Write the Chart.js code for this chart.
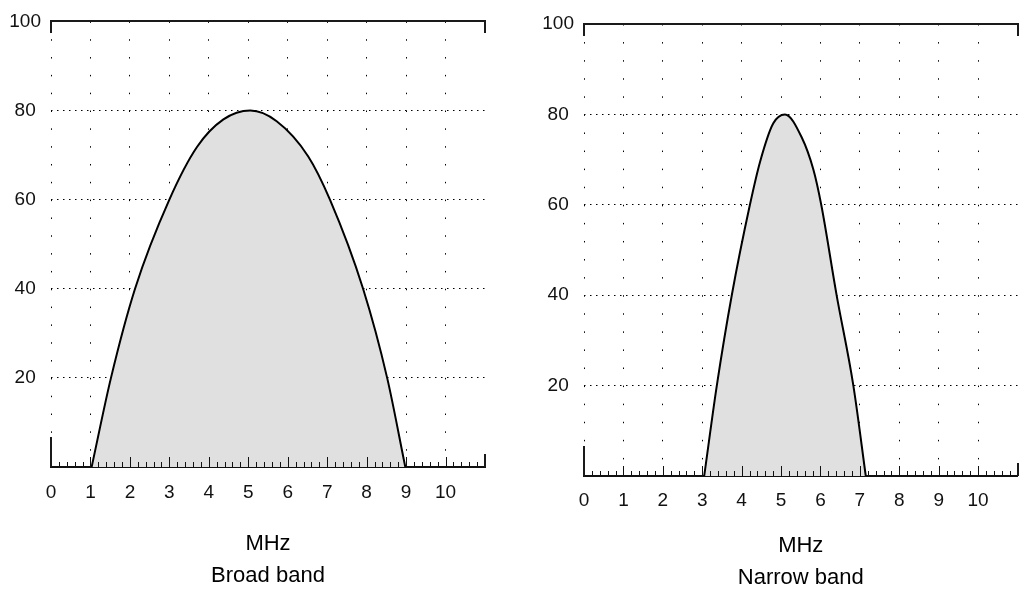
<!DOCTYPE html>
<html><head><meta charset="utf-8">
<script src="https://cdn.jsdelivr.net/npm/chart.js@4/dist/chart.umd.min.js"></script>
<style>
html,body{margin:0;padding:0;background:#fff;overflow:hidden;width:1020px;height:590px}
#c1{position:absolute;left:0;top:0}
#c2{position:absolute;left:510px;top:0}
</style></head><body>
<canvas id="c1" width="510" height="592"></canvas>
<canvas id="c2" width="510" height="594"></canvas>
<script>
// ---- data ----
const xTickLabels = [0, 1, 2, 3, 4, 5, 6, 7, 8, 9, 10];
const yTickLabels = [20, 40, 60, 80, 100];
const broadX = [1.03, 1.52, 2.13, 3.0, 3.7, 4.37, 5.05, 5.72, 6.52, 7.07, 7.91, 8.52, 8.98];
const broadY = [0, 20, 40, 60, 71.8, 78, 80, 77.6, 69.7, 60, 40, 20, 0];
const narrowX = [3.05, 3.37, 3.75, 4.21, 4.47, 4.8, 5.1, 5.52, 5.82, 6.02, 6.41, 6.835, 7.15];
const narrowY = [0, 20, 40, 60, 69.6, 78, 80, 75, 67.8, 60, 40, 20, 0];
const broadTitle = ['MHz', 'Broad band'];
const narrowTitle = ['MHz', 'Narrow band'];
const xMax = 11;

const FONT = "'Liberation Sans', Arial, sans-serif";

const axisDecor = {
  id: 'axisDecor',
  afterDraw(chart) {
    const {ctx, chartArea} = chart;
    const x = chart.scales.x, y = chart.scales.y;
    const yb = chartArea.bottom;
    ctx.save();
    ctx.strokeStyle = '#111';
    ctx.lineWidth = 1;
    ctx.beginPath();
    for (let i = 1; i < xMax * 5; i++) {
      const px = Math.round(x.getPixelForValue(i / 5)) + 0.5;
      const len = (i % 5 === 0) ? 10 : 5;
      ctx.moveTo(px, yb);
      ctx.lineTo(px, yb - len);
    }
    ctx.stroke();
    const xl = Math.round(x.getPixelForValue(0));
    const xr = Math.round(x.getPixelForValue(xMax));
    const yt = Math.round(y.getPixelForValue(100));
    ctx.lineWidth = 2;
    ctx.strokeStyle = '#1a1a1a';
    ctx.beginPath();
    ctx.moveTo(xl, yt + 12); ctx.lineTo(xl, yt); ctx.lineTo(xr, yt); ctx.lineTo(xr, yt + 12);
    ctx.moveTo(xl, yb); ctx.lineTo(xl, yb - 30);
    ctx.moveTo(xr, yb); ctx.lineTo(xr, yb - 13);
    ctx.stroke();
    ctx.restore();
  }
};

function makeChart(id, xs, ys, title, g) {
  return new Chart(document.getElementById(id), {
    type: 'line',
    data: {
      datasets: [{
        data: xs.map((v, i) => ({x: v, y: ys[i]})),
        borderColor: '#000',
        borderWidth: 2,
        backgroundColor: '#e0e0e0',
        fill: 'origin',
        pointRadius: 0,
        cubicInterpolationMode: 'monotone'
      }]
    },
    options: {
      responsive: false,
      animation: false,
      devicePixelRatio: 1,
      layout: {padding: {top: g.top, right: g.right, bottom: 0, left: 0}},
      plugins: {legend: {display: false}, tooltip: {enabled: false}},
      scales: {
        x: {
          type: 'linear', min: 0, max: xMax, z: 1,
          afterBuildTicks: s => { s.ticks = xTickLabels.map(v => ({value: v})); },
          afterFit: s => { s.height = g.xHeight; },
          ticks: {autoSkip: false, maxRotation: 0, padding: g.xPad, color: '#111',
                  font: {family: FONT, size: 19}, callback: v => String(v)},
          grid: {drawTicks: false, tickLength: 0, color: '#000', lineWidth: 1},
          border: {display: true, color: '#111', width: 2,
                   dash: c => { const s = c.chart.scales.y; const p = s.getPixelForValue(0) - s.getPixelForValue(4); return [1.5, p - 1.5]; }},
          title: {display: true, text: title, color: '#000', padding: {top: 0, bottom: 0},
                  font: {family: FONT, size: 22, lineHeight: 1.4545}}
        },
        y: {
          type: 'linear', min: 0, max: 100, z: 1,
          afterBuildTicks: s => { s.ticks = yTickLabels.map(v => ({value: v})); },
          afterFit: s => { s.width = g.yWidth; },
          ticks: {padding: 10, crossAlign: 'center', color: '#111',
                  font: {family: FONT, size: 19}, callback: v => String(v)},
          grid: {drawTicks: false, tickLength: 0, lineWidth: 1,
                 color: c => (c.tick && c.tick.value === 100) ? 'rgba(0,0,0,0)' : '#000'},
          border: {display: false, dash: [1.5, 4.5]}
        }
      }
    },
    plugins: [axisDecor]
  });
}

makeChart('c1', broadX, broadY, broadTitle, {top: 15, right: 25, xHeight: 125, yWidth: 51, xPad: 14});
makeChart('c2', narrowX, narrowY, narrowTitle, {top: 24, right: 2.5, xHeight: 118, yWidth: 74, xPad: 13});
</script>
</body></html>
